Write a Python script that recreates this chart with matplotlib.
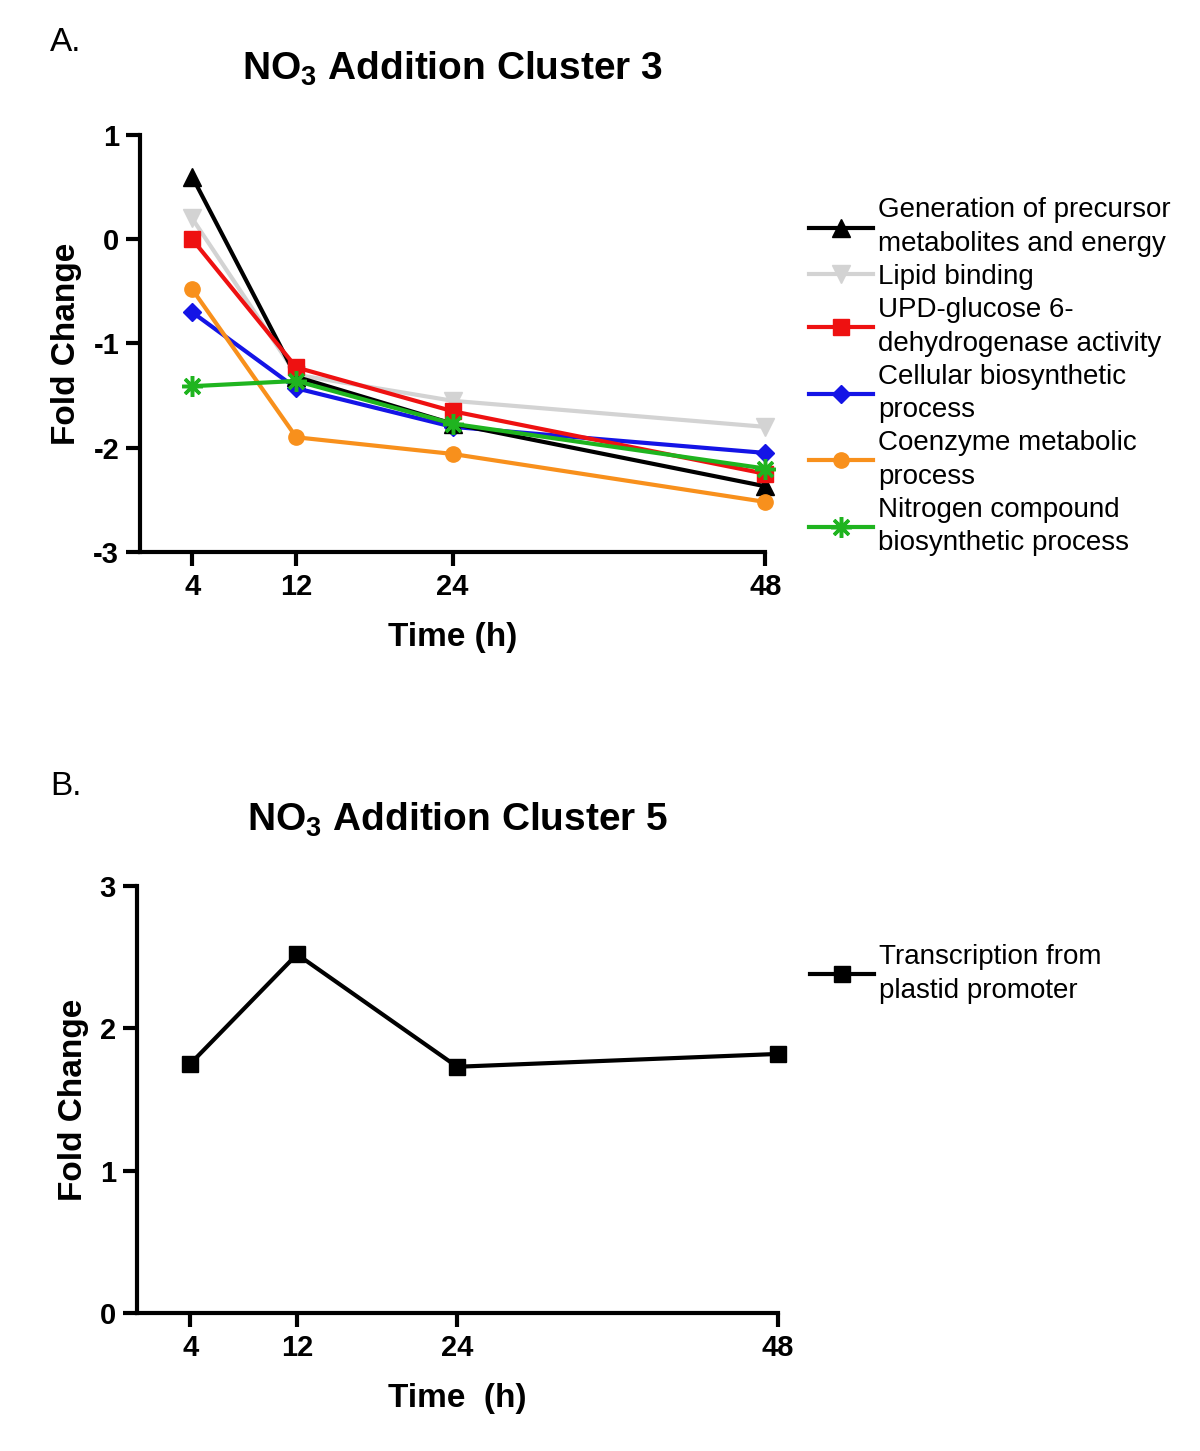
import numpy as np
import matplotlib.pyplot as plt

plt.rcParams['font.family'] = ['Liberation Sans', 'DejaVu Sans']
plt.rcParams['mathtext.fontset'] = 'custom'
plt.rcParams['mathtext.rm'] = 'Liberation Sans'
plt.rcParams['mathtext.bf'] = 'Liberation Sans:bold'
plt.rcParams['axes.unicode_minus'] = False

# time points (h)
hours = [4, 12, 24, 48]

# panel A - cluster 3
gen_precursor = [0.60, -1.32, -1.77, -2.37]
lipid_binding = [0.20, -1.30, -1.55, -1.80]
udp_glucose = [0.00, -1.23, -1.65, -2.25]
cell_biosynth = [-0.70, -1.43, -1.80, -2.05]
coenzyme = [-0.48, -1.90, -2.06, -2.52]
nitrogen = [-1.41, -1.36, -1.77, -2.20]

labels_a = ["Generation of precursor\nmetabolites and energy",
            "Lipid binding",
            "UPD-glucose 6-\ndehydrogenase activity",
            "Cellular biosynthetic\nprocess",
            "Coenzyme metabolic\nprocess",
            "Nitrogen compound\nbiosynthetic process"]

# panel B - cluster 5
plastid = [1.75, 2.52, 1.73, 1.82]
label_b = "Transcription from\nplastid promoter"

fig = plt.figure(figsize=(12, 14.51), dpi=100)

lw = 3
spine_w = 3


def style_axes(ax, ylim, yticks):
    ax.set_xlim(0, 48)
    ax.set_ylim(*ylim)
    ax.set_xticks(hours)
    ax.set_yticks(yticks)
    for s in ['top', 'right']:
        ax.spines[s].set_visible(False)
    for s in ['left', 'bottom']:
        ax.spines[s].set_linewidth(spine_w)
    ax.tick_params(width=spine_w, length=10, labelsize=21, pad=5)
    for t in ax.get_xticklabels() + ax.get_yticklabels():
        t.set_fontweight('bold')


# ---- panel A ----
axA = fig.add_axes([0.1167, 0.6196, 0.521, 0.2874])
style_axes(axA, (-3, 1), [-3, -2, -1, 0, 1])
axA.plot([4, 48], [0, 0], color='black', lw=4, linestyle=(0, (0, 3.6)),
         dash_capstyle='round', zorder=1)

series = [
    (gen_precursor, 'black', '^', 13, labels_a[0], 4),
    (lipid_binding, '#d3d3d3', 'v', 13, labels_a[1], 2),
    (udp_glucose, '#ee1111', 's', 11, labels_a[2], 5),
    (cell_biosynth, '#1414e6', 'D', 9.5, labels_a[3], 3),
    (coenzyme, '#f8901c', 'o', 11, labels_a[4], 4),
    (nitrogen, '#1fb41f', (8, 2, 0), 15, labels_a[5], 6),
]
handles = []
for ys, c, m, ms, lab, z in series:
    kw = dict(color=c, lw=lw, marker=m, markersize=ms, label=lab, zorder=z)
    if m == (8, 2, 0):
        kw['markeredgewidth'] = 2.5
    ln, = axA.plot(hours, ys, clip_on=False, **kw)
    handles.append(ln)

axA.set_xlabel('Time (h)', fontsize=24, fontweight='bold', labelpad=15)
axA.set_ylabel('Fold Change', fontsize=24, fontweight='bold', labelpad=8)
axA.set_title(r'NO$_{\mathbf{3}}$ Addition Cluster 3', fontsize=28,
              fontweight='bold', pad=40)
legA = axA.legend(handles=handles, loc='upper left', bbox_to_anchor=(1.07, 0.85),
                  frameon=False, fontsize=20, handlelength=2.3, handletextpad=0.2,
                  labelspacing=0.25, borderaxespad=0, borderpad=0)
for t in legA.get_texts():
    t.set_linespacing(1.38)
fig.text(0.042, 0.965, 'A.', fontsize=24)

# ---- panel B ----
axB = fig.add_axes([0.114, 0.0951, 0.534, 0.2943])
style_axes(axB, (0, 3), [0, 1, 2, 3])
lnB, = axB.plot(hours, plastid, color='black', lw=lw, marker='s',
                markersize=11, clip_on=False)
axB.set_xlabel('Time  (h)', fontsize=24, fontweight='bold', labelpad=15)
axB.set_ylabel('Fold Change', fontsize=24, fontweight='bold', labelpad=8)
axB.set_title(r'NO$_{\mathbf{3}}$ Addition Cluster 5', fontsize=28,
              fontweight='bold', pad=40)
legB = axB.legend([lnB], [label_b], loc='upper left', bbox_to_anchor=(1.05, 0.864),
                  frameon=False, fontsize=20, handlelength=2.3, handletextpad=0.2,
                  borderaxespad=0, borderpad=0)
for t in legB.get_texts():
    t.set_linespacing(1.38)
fig.text(0.042, 0.452, 'B.', fontsize=24)

fig.savefig('out.png', dpi=100)
